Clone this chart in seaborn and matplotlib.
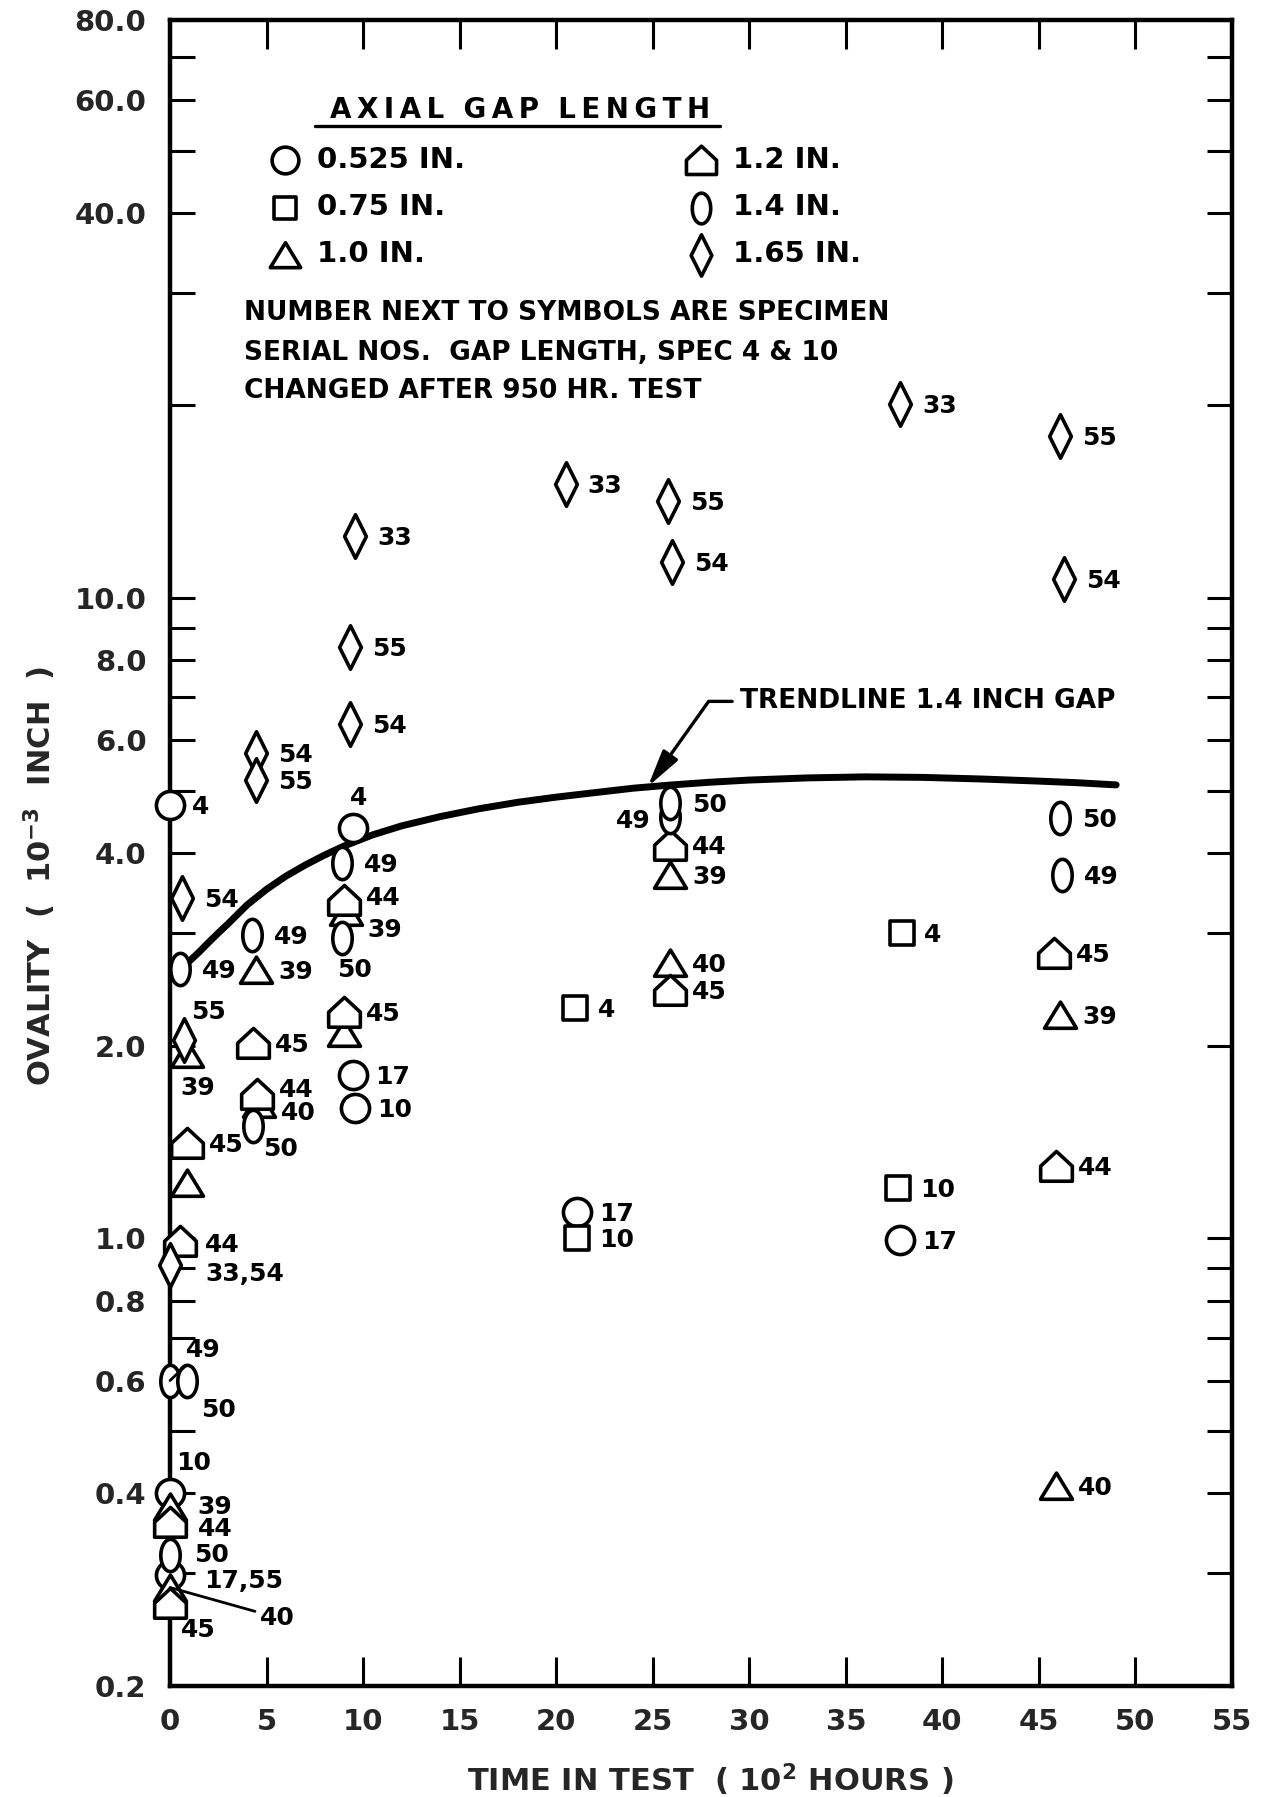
import numpy as np
import matplotlib
matplotlib.use("Agg")
import matplotlib.pyplot as plt
from matplotlib.path import Path
from matplotlib.lines import Line2D
from matplotlib.ticker import FixedLocator, NullLocator
import seaborn as sns

# ---------------- data: time in test (10^2 h) vs ovality (10^-3 in) ----------------
# 0.525 in. gap
circle_t = [0.0, 9.5, 9.5, 9.6, 21.1, 37.8, 0.0, 0.0]
circle_ov = [4.75, 4.38, 1.80, 1.60, 1.10, 0.995, 0.40, 0.298]
circle_lab = ["4", "4", "17", "10", "17", "17", "10", "17,55"]

# 0.75 in. gap
square_t = [21.0, 37.9, 21.1, 37.7]
square_ov = [2.29, 3.00, 1.00, 1.20]
square_lab = ["4", "4", "10", "10"]

# 1.0 in. gap
tri_t = [4.45, 25.9, 46.1, 9.1, 9.0, 0.9, 0.9, 4.6, 25.9, 45.9, 0.0, 0.0]
tri_ov = [2.63, 3.70, 2.23, 3.24, 2.09, 1.94, 1.22, 1.62, 2.69, 0.41, 0.381, 0.285]
tri_lab = ["39", "39", "39", "39", "", "39", "", "40", "40", "40", "39", "40"]

# 1.2 in. gap
house_t = [25.9, 45.8, 45.9, 9.0, 9.0, 4.3, 4.5, 0.9, 0.5, 0.0, 0.0, 25.9]
house_ov = [4.12, 2.79, 1.30, 3.38, 2.26, 2.02, 1.68, 1.41, 0.99, 0.361, 0.27, 2.44]
house_lab = ["44", "45", "44", "44", "45", "45", "44", "45", "44", "44", "45", "45"]

# 1.4 in. gap
oval_t = [0.5, 4.25, 8.9, 8.9, 4.3, 25.9, 25.9, 46.1, 46.2, 0.0, 0.9, 0.0]
oval_ov = [2.64, 2.98, 3.86, 2.95, 1.50, 4.55, 4.78, 4.54, 3.70, 0.60, 0.60, 0.32]
oval_lab = ["49", "49", "49", "50", "50", "49", "50", "50", "49", "49", "50", "50"]

# 1.65 in. gap
diam_t = [37.8, 46.1, 20.5, 25.8, 26.0, 46.3, 9.6, 9.3, 9.3, 4.45, 4.45, 0.6, 0.7, 0.0]
diam_ov = [20.1, 17.9, 15.1, 14.2, 11.4, 10.7, 12.5, 8.4, 6.35, 5.73, 5.20, 3.40, 2.04, 0.91]
diam_lab = ["33", "55", "33", "55", "54", "54", "33", "55", "54", "54", "55", "54", "55", "33,54"]

# trendline for the 1.4 inch gap
trend_t = [0.5, 1.0, 1.5, 2.0, 2.5, 3.0, 4.0, 5.0, 6.0, 7.0, 8.0, 9.0, 10.5, 12.0, 14.0,
           16.0, 18.0, 20.0, 22.0, 24.0, 26.0, 28.0, 30.0, 33.0, 36.0, 39.0, 42.0, 45.0,
           47.0, 49.0]
trend_ov = [2.62, 2.71, 2.80, 2.90, 3.00, 3.10, 3.32, 3.51, 3.68, 3.83, 3.97, 4.10, 4.27,
            4.41, 4.56, 4.69, 4.80, 4.89, 4.97, 5.05, 5.11, 5.16, 5.20, 5.24, 5.26, 5.25,
            5.22, 5.18, 5.15, 5.11]

x_ticks = [0, 5, 10, 15, 20, 25, 30, 35, 40, 45, 50, 55]
y_ticks = [0.2, 0.3, 0.4, 0.5, 0.6, 0.7, 0.8, 0.9, 1, 2, 3, 4, 5, 6, 7, 8, 9,
           10, 20, 30, 40, 50, 60, 70, 80]
y_tick_text = {80: "80.0", 60: "60.0", 40: "40.0", 10: "10.0", 8: "8.0", 6: "6.0",
               4: "4.0", 2: "2.0", 1: "1.0", 0.8: "0.8", 0.6: "0.6", 0.4: "0.4",
               0.2: "0.2"}


# ---------------- marker shapes ----------------
def closed(verts):
    verts = list(verts) + [verts[0]]
    codes = [Path.MOVETO] + [Path.LINETO] * (len(verts) - 2) + [Path.CLOSEPOLY]
    return Path(verts, codes)


_th = np.linspace(0, 2 * np.pi, 72, endpoint=False)
OVAL = closed(list(zip(0.60 * np.cos(_th), np.sin(_th))))
DIAMOND = closed([(0, 1), (0.50, 0), (0, -1), (-0.50, 0)])
TRIANGLE = closed([(-1, -0.80), (1, -0.80), (0, 0.84)])
HOUSE = closed([(-1, -0.93), (1, -0.93), (1, 0.02), (0, 0.95), (-1, 0.02)])
SQUARE = closed([(-1, -1), (1, -1), (1, 1), (-1, 1)])

series = [
    ("circle", "0.525 IN.", circle_t, circle_ov, circle_lab, "o", 410),
    ("square", "0.75 IN.", square_t, square_ov, square_lab, SQUARE, 290),
    ("tri", "1.0 IN.", tri_t, tri_ov, tri_lab, TRIANGLE, 530),
    ("house", "1.2 IN.", house_t, house_ov, house_lab, HOUSE, 520),
    ("oval", "1.4 IN.", oval_t, oval_ov, oval_lab, OVAL, 540),
    ("diam", "1.65 IN.", diam_t, diam_ov, diam_lab, DIAMOND, 980),
]

# label placement (pixels: right, down, alignment, leader line)
default_off = (22, 2, "left", False)
label_off = {
    ("circle", 1): (5, -30, "center", False),
    ("circle", 6): (24, -30, "center", False),
    ("circle", 7): (34, 6, "left", False),
    ("oval", 3): (13, 32, "center", False),
    ("oval", 4): (27, 23, "center", False),
    ("oval", 5): (-37, 4, "center", False),
    ("oval", 9): (33, -31, "center", True),
    ("oval", 10): (31, 29, "center", False),
    ("oval", 11): (24, 0, "left", False),
    ("diam", 12): (25, -28, "center", False),
    ("diam", 13): (35, 9, "left", False),
    ("tri", 3): (22, 18, "left", False),
    ("tri", 5): (10, 34, "center", False),
    ("tri", 7): (22, 9, "left", False),
    ("tri", 10): (27, 0, "left", False),
    ("tri", 11): (107, 30, "center", True),
    ("house", 3): (22, -2, "left", False),
    ("house", 6): (22, -4, "left", False),
    ("house", 8): (25, 4, "left", False),
    ("house", 9): (28, 7, "left", False),
    ("house", 10): (28, 27, "center", False),
}

# ---------------- figure ----------------
sns.set_style("white")
plt.rcParams["font.family"] = ["DejaVu Sans"]
plt.rcParams["font.weight"] = "bold"
plt.rcParams["mathtext.fontset"] = "dejavusans"
plt.rcParams["mathtext.default"] = "bf"
plt.rcParams["text.color"] = "black"

W, H = 1264, 1797
fig = plt.figure(figsize=(W / 100, H / 100), dpi=100)
fig.patch.set_facecolor("white")
ax = fig.add_axes([170 / W, 1 - 1686 / H, (1232 - 170) / W, (1686 - 20) / H])
ax.set_facecolor("white")

sns.lineplot(x=trend_t, y=trend_ov, ax=ax, color="black", linewidth=5.0,
             sort=False, estimator=None, zorder=2, solid_capstyle="round")

for key, name, xs, ys, labs, mk, size in series:
    sns.scatterplot(x=xs, y=ys, ax=ax, marker=mk, s=size, color="white",
                    edgecolor="black", linewidth=2.6, zorder=4, clip_on=False,
                    label=name, legend=False)

ax.set_yscale("log")
ax.set_xlim(0, 55)
ax.set_ylim(0.2, 80)

ax.xaxis.set_major_locator(FixedLocator(x_ticks))
ax.set_xticklabels([str(v) for v in x_ticks])
ax.yaxis.set_major_locator(FixedLocator(y_ticks))
ax.yaxis.set_minor_locator(NullLocator())
ax.set_yticklabels([y_tick_text.get(v, "") for v in y_ticks])

ax.tick_params(axis="x", which="major", direction="in", length=21, width=2.2,
               top=True, bottom=True, labelsize=21, pad=16, color="black")
ax.tick_params(axis="y", which="major", direction="in", length=18, width=2.2,
               left=True, right=True, labelsize=21, pad=17, color="black")
for lab in ax.get_xticklabels() + ax.get_yticklabels():
    lab.set_fontweight("bold")
for sp in ax.spines.values():
    sp.set_linewidth(3.2)
    sp.set_color("black")
    sp.set_visible(True)

ax.set_xlabel(r"TIME IN TEST  ( 10$^{2}$ HOURS )", fontsize=22, fontweight="bold")
ax.xaxis.set_label_coords(0.5085, -0.0456)
ax.set_ylabel(r"OVALITY  (  10$^{-3}$  INCH  )", fontsize=22, fontweight="bold")
ax.yaxis.set_label_coords(-0.1055, 0.4862)

# specimen numbers next to the symbols
for key, name, xs, ys, labs, mk, size in series:
    for i, (x, y, lab) in enumerate(zip(xs, ys, labs)):
        if not lab:
            continue
        dx, dy, ha, leader = label_off.get((key, i), default_off)
        kw = {}
        if leader:
            kw["arrowprops"] = dict(arrowstyle="-", lw=2.0, color="black",
                                    shrinkA=1, shrinkB=0)
        ax.annotate(lab, xy=(x, y), xytext=(dx, -dy), textcoords="offset pixels",
                    ha=ha, va="center", fontsize=18, fontweight="bold", zorder=5,
                    annotation_clip=False, **kw)

# trendline callout
ax.annotate("TRENDLINE 1.4 INCH GAP", xy=(24.75, 5.08), xytext=(29.5, 6.9),
            textcoords="data", ha="left", va="center", fontsize=19,
            fontweight="bold", zorder=5,
            arrowprops=dict(arrowstyle="-|>,head_length=0.9,head_width=0.22",
                            connectionstyle="angle,angleA=0,angleB=54.5,rad=0",
                            lw=2.4, color="black", shrinkA=3, shrinkB=0,
                            mutation_scale=25, relpos=(0, 0.5)))

# legend block
ts = "\u2009"
title = "  ".join(ts.join(w) for w in ["AXIAL", "GAP", "LENGTH"])
ax.text(0.3296, 0.9412, title, transform=ax.transAxes, ha="center",
        va="baseline", fontsize=20, fontweight="bold")
ax.add_line(Line2D([0.1365, 0.5179], [0.9364, 0.9364], transform=ax.transAxes,
                   color="black", lw=2.4))
h, l = ax.get_legend_handles_labels()
leg = ax.legend(h, l, ncol=2, loc="upper left", bbox_to_anchor=(0.0945, 0.9244),
                frameon=False, fontsize=21, handlelength=1.0, handletextpad=0.6,
                columnspacing=7.6, labelspacing=0.66, borderpad=0, borderaxespad=0,
                scatterpoints=1, markerscale=0.95)
for t in leg.get_texts():
    t.set_fontweight("bold")

note = ["NUMBER NEXT TO SYMBOLS ARE SPECIMEN",
        "SERIAL NOS.  GAP LENGTH, SPEC 4 & 10",
        "CHANGED AFTER 950 HR. TEST"]
for txt, yb in zip(note, [0.8199, 0.7959, 0.7731]):
    ax.text(0.0697, yb, txt, transform=ax.transAxes, ha="left", va="baseline",
            fontsize=19, fontweight="bold")

fig.savefig("out.png", dpi=100, facecolor="white")
